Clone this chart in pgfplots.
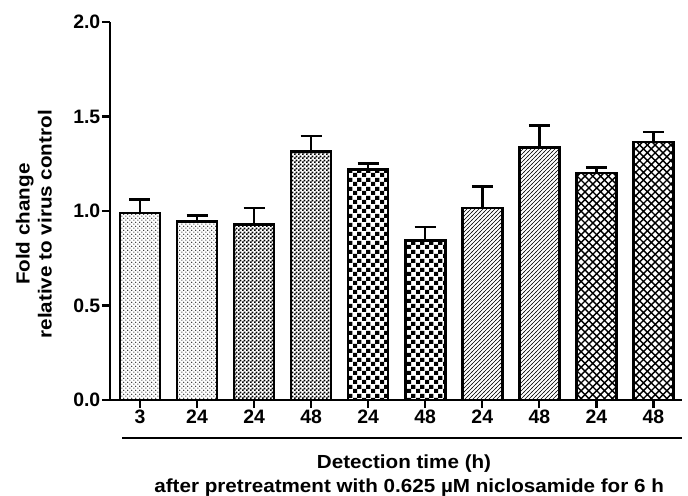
\documentclass[border=0pt]{standalone}
\usepackage{pgfplots}
\pgfplotsset{compat=1.18}
\usepackage{pgfplotstable}
\usetikzlibrary{patterns}
\usepackage{fontspec}
\setmainfont{Liberation Sans}
\newfontfamily\labelfont[FakeStretch=1.09]{Liberation Sans}

\pgfdeclarepatternformonly{dotsA}{\pgfqpoint{0bp}{0bp}}{\pgfqpoint{3.8bp}{3.8bp}}{\pgfqpoint{3.8bp}{3.8bp}}{%
 \pgfpathcircle{\pgfqpoint{0.95bp}{0.95bp}}{0.6bp}%
 \pgfpathcircle{\pgfqpoint{2.85bp}{2.85bp}}{0.6bp}%
 \pgfusepath{fill}}
\pgfdeclarepatternformonly{finechecker}{\pgfqpoint{0bp}{0bp}}{\pgfqpoint{3.6bp}{3.6bp}}{\pgfqpoint{3.6bp}{3.6bp}}{%
 \pgfpathrectangle{\pgfqpoint{0bp}{0bp}}{\pgfqpoint{1.9bp}{1.9bp}}%
 \pgfpathrectangle{\pgfqpoint{1.8bp}{1.8bp}}{\pgfqpoint{1.8bp}{1.8bp}}%
 \pgfusepath{fill}}
\pgfdeclarepatternformonly{checker}{\pgfqpoint{0bp}{0bp}}{\pgfqpoint{8.6bp}{8.6bp}}{\pgfqpoint{8.6bp}{8.6bp}}{%
 \pgfpathrectangle{\pgfqpoint{0bp}{0bp}}{\pgfqpoint{4.3bp}{4.3bp}}%
 \pgfpathrectangle{\pgfqpoint{4.3bp}{4.3bp}}{\pgfqpoint{4.3bp}{4.3bp}}%
 \pgfusepath{fill}}
\pgfdeclarepatternformonly{diagfine}{\pgfqpoint{-1bp}{-1bp}}{\pgfqpoint{5bp}{5bp}}{\pgfqpoint{4bp}{4bp}}{%
 \pgfsetlinewidth{0.5bp}\pgfpathmoveto{\pgfqpoint{-0.5bp}{-0.5bp}}\pgfpathlineto{\pgfqpoint{4.5bp}{4.5bp}}\pgfusepath{stroke}}
\pgfdeclarepatternformonly{diamond}{\pgfqpoint{-1bp}{-1bp}}{\pgfqpoint{8.8bp}{8.8bp}}{\pgfqpoint{7.8bp}{7.8bp}}{%
 \pgfsetlinewidth{1.4bp}%
 \pgfpathmoveto{\pgfqpoint{-0.5bp}{-0.5bp}}\pgfpathlineto{\pgfqpoint{8.3bp}{8.3bp}}%
 \pgfpathmoveto{\pgfqpoint{-0.5bp}{8.3bp}}\pgfpathlineto{\pgfqpoint{8.3bp}{-0.5bp}}%
 \pgfusepath{stroke}}

\pgfplotstableread{
x y e
0 0.99 0.07
1 0.945 0.032
}\dataA
\pgfplotstableread{
x y e
2 0.93 0.085
3 1.315 0.083
}\dataB
\pgfplotstableread{
x y e
4 1.22 0.031
5 0.845 0.07
}\dataC
\pgfplotstableread{
x y e
6 1.015 0.114
7 1.335 0.117
}\dataD
\pgfplotstableread{
x y e
8 1.20 0.03
9 1.365 0.053
}\dataE

\begin{document}
\begin{tikzpicture}
\begin{axis}[
 at={(0,0)}, anchor=south west,
 scale only axis, width=572bp, height=378bp,
 xmin=-0.525, xmax=9.5, ymin=0, ymax=2,
 axis lines=left, axis line style={-, line width=2.5bp},
 ytick={0,0.5,1,1.5,2},
 yticklabel style={/pgf/number format/.cd, fixed, fixed zerofill, precision=1},
 xtick={0,...,9}, xticklabels={3,24,24,48,24,48,24,48,24,48},
 tick align=outside, major tick length=8bp, tick style={line width=2.2bp, black},
 tick label style={font=\bfseries\fontsize{19.5}{23}\selectfont, inner sep=1.5bp},
 /pgf/number format/assume math mode=true,
 ybar, bar width=40bp, bar shift=0pt,
 clip=false,
 error bars/y dir=plus, error bars/y explicit,
 error bars/error mark=-,
 error bars/error bar style={line width=2.5bp, black},
 error bars/error mark options={rotate=90, line width=2.5bp, mark size=10.5bp, black},
]
\addplot[draw=black, line width=2.6bp, pattern=dotsA, pattern color=black] table[x=x,y=y,y error=e] {\dataA};
\addplot[draw=black, line width=2.6bp, pattern=finechecker, pattern color=black] table[x=x,y=y,y error=e] {\dataB};
\addplot[draw=black, line width=2.6bp, pattern=checker, pattern color=black] table[x=x,y=y,y error=e] {\dataC};
\addplot[draw=black, line width=2.6bp, pattern=diagfine, pattern color=black] table[x=x,y=y,y error=e] {\dataD};
\addplot[draw=black, line width=2.6bp, pattern=diamond, pattern color=black] table[x=x,y=y,y error=e] {\dataE};

\node[rotate=90, align=center, anchor=center, font=\labelfont\bfseries\fontsize{19}{22}\selectfont]
  at (axis description cs:-0.133,0.465) {Fold change\\relative to virus control};
\draw[line width=2.5bp] (axis description cs:0.021,-0.1) -- (axis description cs:1,-0.1);
\node[anchor=base, font=\labelfont\bfseries\fontsize{19}{22}\selectfont]
  at (axis description cs:0.514,-0.180) {Detection time (h)};
\node[anchor=base, font=\labelfont\bfseries\fontsize{19}{22}\selectfont]
  at (axis description cs:0.523,-0.245) {after pretreatment with 0.625 µM niclosamide for 6 h};
\end{axis}
\pgfresetboundingbox
\path[use as bounding box] (-110bp,-96bp) rectangle (578bp,400bp);
\end{tikzpicture}
\end{document}
